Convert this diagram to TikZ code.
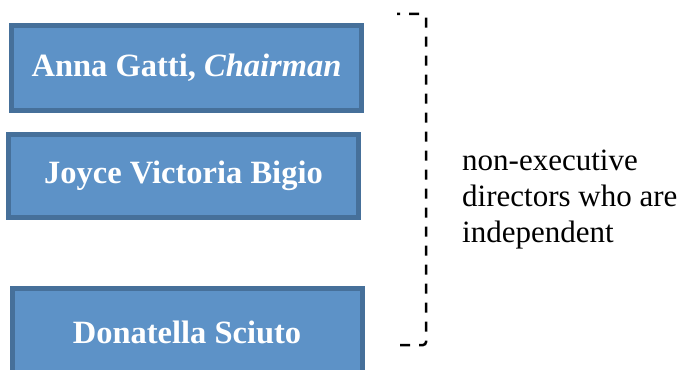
\documentclass[tikz,border=0pt]{standalone}
\usepackage{fontspec}
\setmainfont{Liberation Serif}
\definecolor{boxfill}{RGB}{93,146,199}
\definecolor{boxline}{RGB}{70,112,154}
\begin{document}
\begin{tikzpicture}[x=1pt,y=-1pt,
  dirbox/.style={draw=boxline, fill=boxfill, line width=5pt, inner sep=0pt,
    text=white, font=\fontsize{32.5}{36}\selectfont\bfseries, minimum width=350pt},
  bracketline/.style={line width=2.5pt, dash pattern=on 10pt off 9pt, rounded corners=3pt}]
\useasboundingbox (0,0) rectangle (684,369);
\begin{scope}
\clip (0,0) rectangle (684,369);
\node[dirbox, minimum height=85pt] (a) at (186.5,68) {Anna Gatti, \textit{Chairman}};
\node[dirbox, minimum height=83pt] (j) at (183.5,176) {Joyce Victoria Bigio};
\node[dirbox, minimum height=87pt] (d) at (187,332) {Donatella Sciuto};
\end{scope}
\coordinate (bt) at (397,14);
\coordinate (bb) at (400,345);
\draw[bracketline] (bb) -- (426,345) -- (426,14) -- (bt);
\node[anchor=west, align=left, inner sep=0pt, font=\fontsize{31}{36}\selectfont] (t) at (462,200)
  {non-executive\\directors who are\\independent};
\end{tikzpicture}
\end{document}
